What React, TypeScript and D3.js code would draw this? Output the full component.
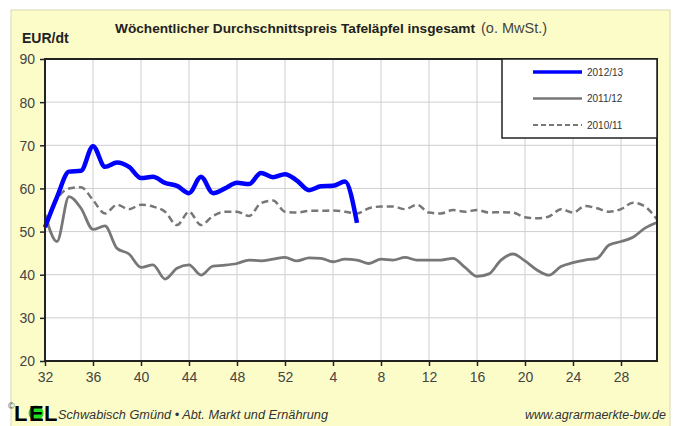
import React, { useEffect, useRef } from 'react';
import * as d3 from 'd3';

// week numbers on the x axis run 32..52, then 1..31 of the next year
const weekTicks = [32, 36, 40, 44, 48, 52, 4, 8, 12, 16, 20, 24, 28];
const yTicks = [20, 30, 40, 50, 60, 70, 80, 90];

const series1213 = [51, 58, 63.9, 64.1, 69.8, 65, 66, 65, 62.4, 62.7, 61.3, 60.6, 58.9, 62.7, 58.9, 60, 61.3, 61, 63.6, 62.6, 63.3, 61.8, 59.6, 60.5, 60.6, 61.6, 52];
const series1112 = [54, 47.7, 58.1, 55.4, 50.5, 51.3, 46.1, 44.8, 41.7, 42.3, 39, 41.5, 42.3, 39.9, 42, 42.2, 42.6, 43.4, 43.2, 43.6, 44, 43.2, 43.9, 43.8, 43, 43.6, 43.4, 42.6, 43.6, 43.4, 44, 43.4, 43.4, 43.4, 43.8, 41.7, 39.6, 40.2, 43.4, 44.8, 43.2, 41.1, 39.9, 41.9, 42.8, 43.4, 43.8, 46.9, 47.7, 48.7, 50.8, 52.1];
const series1011 = [51.5, 57.5, 60, 60.3, 57.3, 54.2, 56.2, 55.2, 56.2, 55.8, 54.6, 51.5, 54.6, 51.5, 53.6, 54.6, 54.6, 53.6, 56.6, 57.2, 54.6, 54.4, 54.8, 54.8, 54.9, 54.6, 54.2, 55.4, 55.8, 55.8, 55.2, 56.2, 54.4, 54.2, 55, 54.6, 55, 54.4, 54.5, 54.4, 53.3, 53.1, 53.5, 55.2, 54.4, 55.9, 55.4, 54.6, 55.2, 56.7, 55.8, 52.8];

const seriesNames = ['2012/13', '2011/12', '2010/11'];

const width = 680;
const height = 426;
const margin = { top: 59, right: 23, bottom: 65, left: 45 };
const FONT = '"Liberation Sans", Arial, sans-serif';

export default function App() {
  const svgRef = useRef<SVGSVGElement>(null);

  useEffect(() => {
    const svg = d3.select(svgRef.current);
    svg.selectAll('*').remove();

    const innerW = width - margin.left - margin.right;
    const innerH = height - margin.top - margin.bottom;

    // x is an index: 0 = week 32
    const x = d3.scaleLinear().domain([0, 51]).range([0, innerW]);
    const y = d3.scaleLinear().domain([20, 90]).range([innerH, 0]);
    const weekIndex = (w: number) => (w >= 32 ? w - 32 : w + 20);

    // yellow panel
    svg.append('rect')
      .attr('x', 11).attr('y', 10)
      .attr('width', 659).attr('height', 420)
      .attr('fill', '#fcfcc9')
      .attr('stroke', '#d8d8b0')
      .attr('stroke-width', 1);

    const g = svg.append('g').attr('transform', `translate(${margin.left},${margin.top})`);

    g.append('rect')
      .attr('width', innerW).attr('height', innerH)
      .attr('fill', '#fff');

    // grid
    g.selectAll('line.hgrid')
      .data(yTicks.slice(1, -1))
      .enter().append('line')
      .attr('class', 'hgrid')
      .attr('x1', 0).attr('x2', innerW)
      .attr('y1', d => y(d)).attr('y2', d => y(d))
      .attr('stroke', '#cfcfd4').attr('stroke-width', 1);

    g.selectAll('line.vgrid')
      .data(weekTicks.slice(1))
      .enter().append('line')
      .attr('class', 'vgrid')
      .attr('x1', d => x(weekIndex(d))).attr('x2', d => x(weekIndex(d)))
      .attr('y1', 0).attr('y2', innerH)
      .attr('stroke', '#cfcfd4').attr('stroke-width', 1);

    // axes
    const yAxis = d3.axisLeft(y).tickValues(yTicks).tickSize(5).tickFormat(d => String(d));
    const xAxis = d3.axisBottom(x)
      .tickValues(weekTicks.map(weekIndex))
      .tickSize(5)
      .tickFormat((d, i) => String(weekTicks[i]));

    const ya = g.append('g').call(yAxis);
    ya.select('.domain').remove();
    ya.selectAll('line').attr('stroke', '#222').attr('stroke-width', 1.5);
    ya.selectAll('text')
      .attr('x', -10).attr('dy', '0.35em')
      .style('font-family', FONT).style('font-size', '14px').attr('fill', '#444');

    const xa = g.append('g').attr('transform', `translate(0,${innerH})`).call(xAxis);
    xa.select('.domain').remove();
    xa.selectAll('line').attr('stroke', '#222').attr('stroke-width', 1.5);
    xa.selectAll('text')
      .attr('y', 11)
      .style('font-family', FONT).style('font-size', '14px').attr('fill', '#444');

    // lines
    const line = d3.line<number>()
      .x((d, i) => x(i))
      .y(d => y(d))
      .curve(d3.curveMonotoneX);

    g.append('path').datum(series1011)
      .attr('d', line).attr('fill', 'none')
      .attr('stroke', '#777').attr('stroke-width', 2.5)
      .attr('stroke-dasharray', '7,4');

    g.append('path').datum(series1112)
      .attr('d', line).attr('fill', 'none')
      .attr('stroke', '#777').attr('stroke-width', 2.8);

    g.append('path').datum(series1213)
      .attr('d', line).attr('fill', 'none')
      .attr('stroke', '#0000ff').attr('stroke-width', 4.5)
      .attr('stroke-linejoin', 'round');

    // frame
    g.append('rect')
      .attr('width', innerW).attr('height', innerH)
      .attr('fill', 'none')
      .attr('stroke', '#222').attr('stroke-width', 2);

    // legend
    const lg = g.append('g').attr('transform', `translate(${innerW - 155},0)`);
    lg.append('rect')
      .attr('width', 155).attr('height', 79)
      .attr('fill', '#fff').attr('stroke', '#222').attr('stroke-width', 1.5);
    const legendStyles = [
      { color: '#0000ff', w: 3.5, dash: null },
      { color: '#777', w: 2.5, dash: null },
      { color: '#777', w: 2, dash: '5,3' },
    ];
    seriesNames.forEach((name, i) => {
      const yy = 13 + i * 26.5;
      const s = legendStyles[i];
      lg.append('line')
        .attr('x1', 31).attr('x2', 80)
        .attr('y1', yy).attr('y2', yy)
        .attr('stroke', s.color).attr('stroke-width', s.w)
        .attr('stroke-dasharray', s.dash);
      lg.append('text')
        .attr('x', 85).attr('y', yy).attr('dy', '0.35em')
        .style('font-family', FONT).style('font-size', '10px')
        .attr('fill', '#333')
        .text(name);
    });

    // titles
    svg.append('text')
      .attr('x', 22).attr('y', 43)
      .style('font-family', FONT).style('font-size', '14px').style('font-weight', 'bold')
      .attr('fill', '#222')
      .text('EUR/dt');

    svg.append('text')
      .attr('x', 115).attr('y', 33)
      .attr('textLength', 360).attr('lengthAdjust', 'spacingAndGlyphs')
      .style('font-family', FONT).style('font-size', '13.5px').style('font-weight', 'bold')
      .attr('fill', '#222')
      .text('Wöchentlicher Durchschnittspreis Tafeläpfel insgesamt');
    svg.append('text')
      .attr('x', 481).attr('y', 33)
      .style('font-family', FONT).style('font-size', '14.5px')
      .attr('fill', '#444')
      .text('(o. MwSt.)');

    // footer
    svg.append('text')
      .attr('x', 8).attr('y', 409)
      .style('font-family', FONT).style('font-size', '9px').attr('fill', '#444')
      .text('©');
    const logo = svg.append('g')
      .style('font-family', FONT).style('font-size', '22px').style('font-weight', 'bold');
    logo.append('text').attr('x', 14).attr('y', 421).attr('fill', '#000').text('L');
    logo.append('circle').attr('cx', 36).attr('cy', 413).attr('r', 7.5).attr('fill', '#22dd22');
    logo.append('text').attr('x', 29).attr('y', 421).attr('fill', '#000').text('E');
    logo.append('text').attr('x', 44).attr('y', 421).attr('fill', '#000').text('L');

    svg.append('text')
      .attr('x', 58).attr('y', 419)
      .attr('textLength', 270).attr('lengthAdjust', 'spacingAndGlyphs')
      .style('font-family', FONT).style('font-size', '12.5px').style('font-style', 'italic')
      .attr('fill', '#333')
      .text('Schwabisch Gmünd • Abt. Markt und Ernährung');
    svg.append('text')
      .attr('x', 666).attr('y', 419).attr('text-anchor', 'end')
      .style('font-family', FONT).style('font-size', '12.5px').style('font-style', 'italic')
      .attr('fill', '#333')
      .text('www.agrarmaerkte-bw.de');
  }, []);

  return (
    <div style={{ position: 'absolute', left: 0, top: 0 }}>
      <svg ref={svgRef} width={width} height={height} style={{ display: 'block', background: '#fff' }} />
    </div>
  );
}
